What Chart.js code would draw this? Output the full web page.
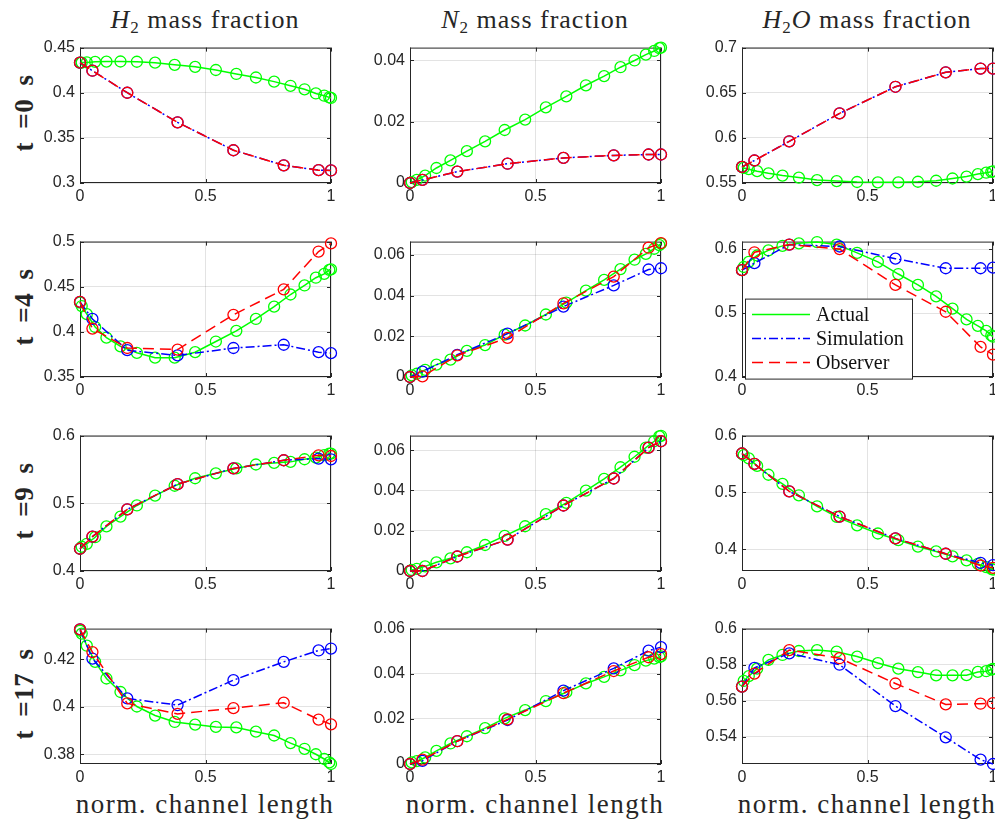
<!DOCTYPE html>
<html>
<head>
<meta charset="utf-8">
<script src="https://cdn.jsdelivr.net/npm/chart.js@4.4.0/dist/chart.umd.min.js"></script>
<style>
html, body { margin: 0; padding: 0; background: #fff; width: 995px; height: 821px; overflow: hidden; }
canvas { position: absolute; }
.txt { position: absolute; font-family: "Liberation Serif", serif; color: #262626; white-space: nowrap; }
.title { width: 330px; text-align: center; font-size: 26px; letter-spacing: 1px; top: 4px; line-height: 32px; }
.title sub { font-size: 17px; vertical-align: -5px; line-height: 0; }
.xlab { width: 330px; text-align: center; font-size: 27px; letter-spacing: 1.5px; top: 788px; line-height: 32px; }
.row { font-size: 27px; font-weight: bold; transform: translate(-50%, -50%) rotate(-90deg); left: 24px; word-spacing: 6px; letter-spacing: 0.5px; }
</style>
</head>
<body>
<div class="txt title" style="left:40px"><i>H</i><sub>2</sub> mass fraction</div>
<div class="txt title" style="left:370px"><i>N</i><sub>2</sub> mass fraction</div>
<div class="txt title" style="left:702px"><i>H</i><sub>2</sub><i>O</i> mass fraction</div>
<div class="txt row" style="top:113px">t =0 s</div>
<div class="txt row" style="top:307px">t =4 s</div>
<div class="txt row" style="top:501px">t =9 s</div>
<div class="txt row" style="top:694px">t =17 s</div>
<div class="txt xlab" style="left:40px">norm. channel length</div>
<div class="txt xlab" style="left:370px">norm. channel length</div>
<div class="txt xlab" style="left:702px">norm. channel length</div>
<script>
// grid points along the channel
const xAct = [0, 0.0068, 0.0271, 0.0603, 0.1054, 0.1613, 0.2266, 0.2991, 0.3772, 0.4587, 0.5413, 0.6228, 0.7009, 0.7734, 0.8387, 0.8946, 0.9397, 0.9729, 0.9932, 1]
const xMod = [0, 0.0495, 0.1883, 0.3887, 0.6113, 0.8117, 0.9505, 1]
const xTicks = [0, 0.5, 1]
const seriesNames = ['Actual', 'Simulation', 'Observer']

// t = 0 s
const act_h2_0 = [0.4333, 0.4334, 0.4336, 0.4342, 0.4345, 0.4346, 0.4343, 0.4333, 0.4309, 0.4287, 0.4252, 0.4208, 0.4169, 0.4123, 0.4077, 0.4038, 0.3992, 0.3967, 0.3949, 0.3942]
const sim_h2_0 = [0.4333, 0.4244, 0.4000, 0.3672, 0.3363, 0.3196, 0.3142, 0.3139]
const obs_h2_0 = [0.4333, 0.4244, 0.4000, 0.3672, 0.3363, 0.3196, 0.3142, 0.3139]
const act_n2_0 = [0, 0.0003, 0.0010, 0.0024, 0.0049, 0.0074, 0.0104, 0.0136, 0.0173, 0.0207, 0.0247, 0.0283, 0.0319, 0.0349, 0.0378, 0.0400, 0.0419, 0.0431, 0.0440, 0.0442]
const sim_n2_0 = [0, 0.0010, 0.0037, 0.0063, 0.0082, 0.0090, 0.0093, 0.0093]
const obs_n2_0 = [0, 0.0010, 0.0037, 0.0063, 0.0082, 0.0090, 0.0093, 0.0093]
const act_h2o_0 = [0.5678, 0.5667, 0.5653, 0.5631, 0.5607, 0.5582, 0.5560, 0.5532, 0.5521, 0.5511, 0.5507, 0.5507, 0.5514, 0.5525, 0.5550, 0.5571, 0.5599, 0.5614, 0.5624, 0.5628]
const sim_h2o_0 = [0.5678, 0.5749, 0.5962, 0.6271, 0.6566, 0.6726, 0.6768, 0.6768]
const obs_h2o_0 = [0.5678, 0.5749, 0.5962, 0.6271, 0.6566, 0.6726, 0.6768, 0.6768]

// t = 4 s
const act_h2_4 = [0.4325, 0.4286, 0.4196, 0.4054, 0.3936, 0.3839, 0.3768, 0.3714, 0.3714, 0.3775, 0.3893, 0.4011, 0.4143, 0.4279, 0.4414, 0.4514, 0.4600, 0.4643, 0.4686, 0.4693]
const sim_h2_4 = [0.4332, 0.4143, 0.3797, 0.3739, 0.3821, 0.3857, 0.3775, 0.3764]
const obs_h2_4 = [0.4332, 0.4036, 0.3821, 0.3804, 0.4189, 0.4471, 0.4890, 0.4980]
const act_n2_4 = [0, 0.0008, 0.0016, 0.0035, 0.0061, 0.0085, 0.0128, 0.0157, 0.0208, 0.0253, 0.0307, 0.0365, 0.0424, 0.0477, 0.0530, 0.0576, 0.0605, 0.0630, 0.0648, 0.0655]
const sim_n2_4 = [0, 0.0026, 0.0109, 0.0213, 0.0346, 0.0450, 0.0528, 0.0534]
const obs_n2_4 = [0, 0.0003, 0.0106, 0.0192, 0.0362, 0.0493, 0.0635, 0.0658]
const act_h2o_4 = [0.567, 0.572, 0.580, 0.590, 0.598, 0.605, 0.609, 0.611, 0.607, 0.594, 0.580, 0.561, 0.544, 0.526, 0.507, 0.490, 0.480, 0.472, 0.465, 0.463]
const sim_h2o_4 = [0.567, 0.578, 0.607, 0.604, 0.585, 0.570, 0.570, 0.571]
const obs_h2o_4 = [0.567, 0.595, 0.607, 0.600, 0.544, 0.502, 0.447, 0.435]

// t = 9 s
const act_h2_9 = [0.4329, 0.4358, 0.4402, 0.4499, 0.4659, 0.4804, 0.4968, 0.5114, 0.5259, 0.5370, 0.5443, 0.5515, 0.5573, 0.5597, 0.5612, 0.5651, 0.5675, 0.5713, 0.5733, 0.5733]
const sim_h2_9 = [0.4329, 0.4508, 0.4910, 0.5283, 0.5515, 0.5636, 0.5660, 0.5650]
const obs_h2_9 = [0.4329, 0.4508, 0.4910, 0.5283, 0.5515, 0.5636, 0.5709, 0.5699]
const act_n2_9 = [0, 0.0005, 0.0011, 0.0023, 0.0043, 0.0063, 0.0093, 0.0129, 0.0174, 0.0222, 0.0282, 0.0338, 0.0399, 0.0457, 0.0515, 0.0567, 0.0612, 0.0644, 0.0668, 0.0671]
const sim_n2_9 = [0, 0, 0.0072, 0.0156, 0.0325, 0.0459, 0.0612, 0.0644]
const obs_n2_9 = [0, 0, 0.0072, 0.0156, 0.0325, 0.0459, 0.0612, 0.0644]
const act_h2o_9 = [0.5685, 0.5655, 0.5599, 0.5466, 0.5311, 0.5150, 0.4949, 0.4753, 0.4569, 0.4420, 0.4276, 0.4161, 0.4046, 0.3960, 0.3873, 0.3804, 0.3741, 0.3683, 0.3655, 0.3640]
const sim_h2o_9 = [0.5685, 0.5501, 0.5018, 0.4575, 0.4190, 0.3920, 0.3759, 0.3718]
const obs_h2o_9 = [0.5685, 0.5501, 0.5018, 0.4575, 0.4190, 0.3920, 0.3713, 0.3672]

// t = 17 s
const act_h2_17 = [0.4320, 0.4308, 0.4257, 0.4189, 0.4119, 0.4062, 0.4001, 0.3963, 0.3936, 0.3925, 0.3915, 0.3913, 0.3895, 0.3879, 0.3847, 0.3823, 0.3800, 0.3780, 0.3766, 0.3759]
const sim_h2_17 = [0.4326, 0.4203, 0.4035, 0.4007, 0.4112, 0.4189, 0.4237, 0.4245]
const obs_h2_17 = [0.4326, 0.4230, 0.4014, 0.3970, 0.3994, 0.4017, 0.3946, 0.3926]
const act_n2_17 = [0, 0.0007, 0.0013, 0.0029, 0.0058, 0.0091, 0.0123, 0.0159, 0.0202, 0.0239, 0.0279, 0.0318, 0.0357, 0.0386, 0.0415, 0.0438, 0.0458, 0.0467, 0.0474, 0.0477]
const sim_n2_17 = [0, 0.0014, 0.0101, 0.0195, 0.0325, 0.0424, 0.0502, 0.0518]
const obs_n2_17 = [0, 0.0019, 0.0101, 0.0198, 0.0314, 0.0412, 0.0473, 0.0487]
const act_h2o_17 = [0.5679, 0.5710, 0.5737, 0.5778, 0.5827, 0.5854, 0.5876, 0.5881, 0.5872, 0.5845, 0.5809, 0.5778, 0.5759, 0.5741, 0.5741, 0.5742, 0.5760, 0.5764, 0.5773, 0.5777]
const sim_h2o_17 = [0.5679, 0.5782, 0.5863, 0.5800, 0.5571, 0.5398, 0.5274, 0.5250]
const obs_h2o_17 = [0.5679, 0.5751, 0.5881, 0.5836, 0.5696, 0.5580, 0.5584, 0.5587]

// y axis limits and ticks, row by row
const yMin = [0.3, 0, 0.55, 0.35, 0, 0.4, 0.4, 0, 0.3616, 0.3759, 0, 0.525]
const yMax = [0.45, 0.0442, 0.7, 0.5, 0.0665, 0.6117, 0.6, 0.0672, 0.6, 0.4329, 0.06, 0.6]
const yTicks = [
    [0.3, 0.35, 0.4, 0.45], [0, 0.02, 0.04], [0.55, 0.6, 0.65, 0.7],
    [0.35, 0.4, 0.45, 0.5], [0, 0.02, 0.04, 0.06], [0.4, 0.5, 0.6],
    [0.4, 0.5, 0.6], [0, 0.02, 0.04, 0.06], [0.4, 0.5, 0.6],
    [0.38, 0.4, 0.42], [0, 0.02, 0.04, 0.06], [0.54, 0.56, 0.58, 0.6]
]
const panels = [
    [act_h2_0, sim_h2_0, obs_h2_0], [act_n2_0, sim_n2_0, obs_n2_0], [act_h2o_0, sim_h2o_0, obs_h2o_0],
    [act_h2_4, sim_h2_4, obs_h2_4], [act_n2_4, sim_n2_4, obs_n2_4], [act_h2o_4, sim_h2o_4, obs_h2o_4],
    [act_h2_9, sim_h2_9, obs_h2_9], [act_n2_9, sim_n2_9, obs_n2_9], [act_h2o_9, sim_h2o_9, obs_h2o_9],
    [act_h2_17, sim_h2_17, obs_h2_17], [act_n2_17, sim_n2_17, obs_n2_17], [act_h2o_17, sim_h2o_17, obs_h2o_17]
]

const colLeft = [80, 410, 742]
const rowTop = [43, 237, 431, 624]
const plotW = 251, plotH = 140
const padL = 70, padT = 10, padR = 10, padB = 30
const axisColor = '#262626'

Chart.defaults.font.family = '"Liberation Sans", Arial, sans-serif'
Chart.defaults.font.size = 16
Chart.defaults.color = axisColor

const fmt = (v) => String(parseFloat(Number(v).toFixed(4)))
const toPoints = (xs, ys) => xs.map((x, i) => ({ x: x, y: ys[i] }))

// box around the axes with matlab style inner ticks
const framePlugin = {
    id: 'frame',
    beforeDatasetsDraw(chart) {
        const { ctx, chartArea: a, scales } = chart
        ctx.save()
        ctx.strokeStyle = axisColor
        ctx.lineWidth = 1
        ctx.strokeRect(a.left + 0.5, a.top + 0.5, a.right - a.left - 1, a.bottom - a.top - 1)
        ctx.beginPath()
        scales.x.ticks.forEach((t) => {
            const px = Math.round(scales.x.getPixelForValue(t.value)) + 0.5
            ctx.moveTo(px, a.bottom); ctx.lineTo(px, a.bottom - 4)
            ctx.moveTo(px, a.top); ctx.lineTo(px, a.top + 4)
        })
        scales.y.ticks.forEach((t) => {
            const py = Math.round(scales.y.getPixelForValue(t.value)) + 0.5
            ctx.moveTo(a.left, py); ctx.lineTo(a.left + 4, py)
            ctx.moveTo(a.right, py); ctx.lineTo(a.right - 4, py)
        })
        ctx.stroke()
        ctx.restore()
    }
}

// legend box drawn inside the H2O t=4 panel
const legendPlugin = {
    id: 'boxLegend',
    afterDatasetsDraw(chart) {
        const { ctx, chartArea: a } = chart
        const x0 = a.left + 3, y0 = a.top + 57, w = 167, h = 80
        ctx.save()
        ctx.fillStyle = '#fff'
        ctx.fillRect(x0, y0, w, h)
        ctx.strokeStyle = axisColor
        ctx.lineWidth = 1
        ctx.strokeRect(x0 + 0.5, y0 + 0.5, w, h)
        chart.data.datasets.forEach((ds, i) => {
            const y = y0 + 16 + i * 24
            ctx.strokeStyle = ds.borderColor
            ctx.lineWidth = ds.borderWidth
            ctx.setLineDash(ds.borderDash || [])
            ctx.beginPath()
            ctx.moveTo(x0 + 7, y); ctx.lineTo(x0 + 65, y)
            ctx.stroke()
            ctx.setLineDash([])
            ctx.fillStyle = '#111'
            ctx.font = '20px "Liberation Serif", serif'
            ctx.textBaseline = 'middle'
            ctx.fillText(ds.label, x0 + 71, y + 1)
        })
        ctx.restore()
    }
}

function makeDataset(i, xs, ys) {
    const colors = ['#00ff00', '#0000ff', '#ff0000']
    const dashes = [[], [9, 3, 2, 3], [11, 6]]
    return {
        label: seriesNames[i],
        data: toPoints(xs, ys),
        borderColor: colors[i],
        borderWidth: 1.5,
        borderDash: dashes[i],
        pointRadius: 5.5,
        pointBorderWidth: 1.3,
        pointBorderColor: colors[i],
        pointBackgroundColor: 'rgba(0,0,0,0)',
        pointHoverRadius: 5.5,
        tension: 0,
        fill: false,
        clip: false,
        order: 3 - i
    }
}

panels.forEach((series, k) => {
    const r = Math.floor(k / 3), c = k % 3
    const cv = document.createElement('canvas')
    const w = padL + plotW + padR, h = padT + plotH + padB
    cv.width = w; cv.height = h
    cv.style.left = (colLeft[c] - padL) + 'px'
    cv.style.top = (rowTop[r] - padT) + 'px'
    cv.style.width = w + 'px'; cv.style.height = h + 'px'
    document.body.appendChild(cv)

    const ticksY = yTicks[k]
    const config = {
        type: 'line',
        data: {
            datasets: [
                makeDataset(0, xAct, series[0]),
                makeDataset(1, xMod, series[1]),
                makeDataset(2, xMod, series[2])
            ]
        },
        options: {
            responsive: false,
            animation: false,
            devicePixelRatio: 1,
            layout: { padding: { left: 0, top: padT, right: padR, bottom: 0 } },
            plugins: { legend: { display: false }, tooltip: { enabled: false } },
            scales: {
                x: {
                    type: 'linear', min: 0, max: 1,
                    afterBuildTicks: (s) => { s.ticks = xTicks.map((v) => ({ value: v })) },
                    afterFit: (s) => { s.height = padB },
                    ticks: { callback: fmt, padding: 4, maxRotation: 0 },
                    grid: { color: 'rgba(38,38,38,0.13)', drawTicks: false, lineWidth: 1 },
                    border: { display: false }
                },
                y: {
                    type: 'linear', min: yMin[k], max: yMax[k],
                    afterBuildTicks: (s) => { s.ticks = ticksY.map((v) => ({ value: v })) },
                    afterFit: (s) => { s.width = padL },
                    ticks: { callback: fmt, padding: 5 },
                    grid: { color: 'rgba(38,38,38,0.13)', drawTicks: false, lineWidth: 1 },
                    border: { display: false }
                }
            }
        },
        plugins: k === 5 ? [framePlugin, legendPlugin] : [framePlugin]
    }
    new Chart(cv, config)
})
</script>
</body>
</html>
